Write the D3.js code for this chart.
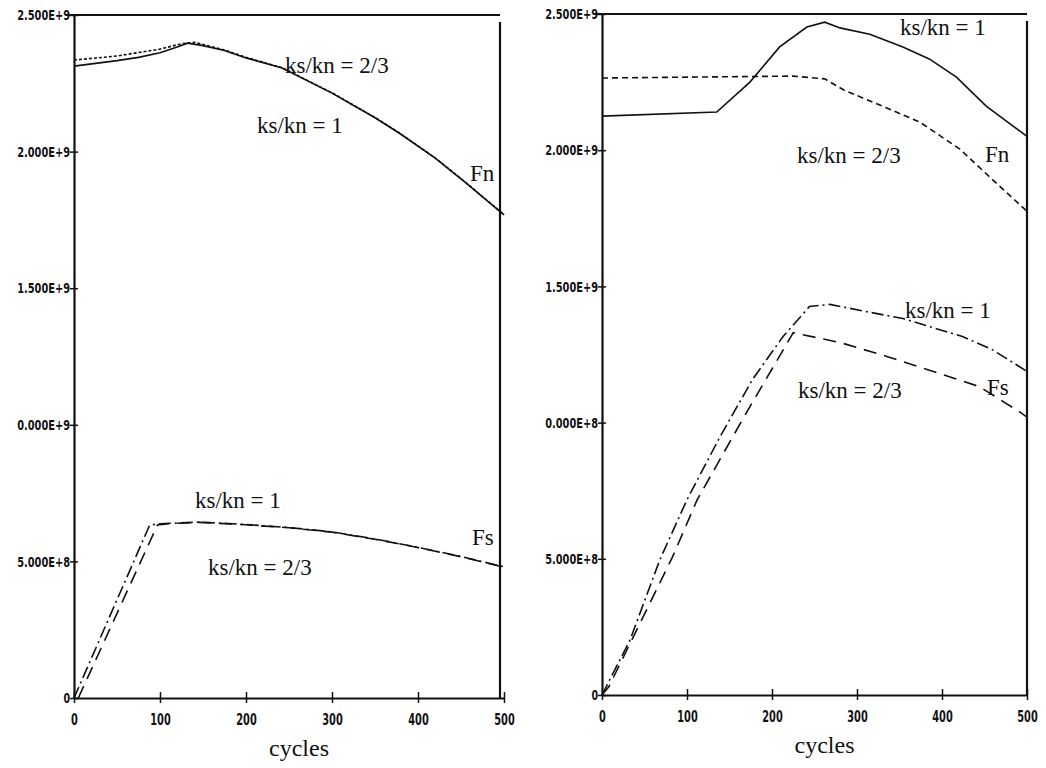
<!DOCTYPE html>
<html>
<head>
<meta charset="utf-8">
<script src="https://cdn.jsdelivr.net/npm/d3@7"></script>
<style>
  body { margin: 0; background: #fff; }
  .tick-label { font-family: "Liberation Sans Narrow", "DejaVu Sans Condensed", sans-serif; font-weight: bold; fill: #111; }
  .note { font-family: "Liberation Serif", "DejaVu Serif", serif; fill: #111; }
  .curve { fill: none; stroke: #111; stroke-width: 1.6; }
</style>
</head>
<body>
<script>
// Shared Axis Data (Values In Units Of 1E+9)
const yTicks = [0, 0.5, 1.0, 1.5, 2.0, 2.5];
const leftYLabels = ["0", "5.000E+8", "0.000E+9", "1.500E+9", "2.000E+9", "2.500E+9"];
const rightYLabels = ["0", "5.000E+8", "0.000E+8", "1.500E+9", "2.000E+9", "2.500E+9"];
const xTicks = [0, 100, 200, 300, 400, 500];
const xLabels = ["0", "100", "200", "300", "400", "500"];

// Left Panel - Fn
const leftFn1Cycles = [0, 25, 50, 75, 100, 120, 132, 150, 175, 200, 242, 300, 350, 378, 420, 456, 500];
const leftFn1Values = [2.313, 2.323, 2.333, 2.345, 2.362, 2.383, 2.397, 2.388, 2.37, 2.343, 2.306, 2.214, 2.124, 2.068, 1.976, 1.885, 1.768];
const leftFn23Cycles = [0, 50, 100, 125, 140, 175, 200, 242, 300, 350, 378, 420, 456, 500];
const leftFn23Values = [2.335, 2.35, 2.375, 2.395, 2.40, 2.372, 2.345, 2.307, 2.215, 2.125, 2.069, 1.977, 1.886, 1.769];

// Left Panel - Fs
const leftFs1Cycles = [0, 88, 100, 146, 200, 250, 300, 350, 398, 450, 500];
const leftFs1Values = [0, 0.633, 0.638, 0.644, 0.635, 0.624, 0.608, 0.582, 0.553, 0.518, 0.48];
const leftFs23Cycles = [5, 97, 110, 146, 200, 250, 300, 350, 398, 450, 500];
const leftFs23Values = [0, 0.633, 0.638, 0.643, 0.634, 0.623, 0.607, 0.581, 0.552, 0.517, 0.479];

// Right Panel - Fn
const rightFn1Cycles = [0, 135, 174, 209, 241, 262, 280, 315, 354, 385, 417, 452, 500];
const rightFn1Values = [2.125, 2.14, 2.25, 2.379, 2.452, 2.47, 2.449, 2.426, 2.379, 2.335, 2.268, 2.162, 2.051];
const rightFn23Cycles = [0, 224, 262, 285, 335, 374, 421, 459, 500];
const rightFn23Values = [2.265, 2.272, 2.262, 2.22, 2.155, 2.103, 2.004, 1.893, 1.776];

// Right Panel - Fs
const rightFs1Cycles = [0, 33, 68, 100, 139, 177, 213, 244, 268, 315, 354, 424, 459, 500];
const rightFs1Values = [0, 0.202, 0.496, 0.717, 0.949, 1.158, 1.316, 1.426, 1.434, 1.405, 1.382, 1.316, 1.268, 1.188];
const rightFs23Cycles = [0, 8, 83, 112, 170, 225, 280, 335, 401, 444, 491, 500];
const rightFs23Values = [0, 0.03, 0.507, 0.717, 1.037, 1.33, 1.294, 1.243, 1.176, 1.132, 1.04, 1.02];

// Dash Styles
const dashFn23Left = "3,2", dashFn23Right = "6,4", dashFs1 = "12,4,2,4", dashFs23 = "13,8";

let w = 1046, h = 768;
let svg = d3.select("body").append("svg").attr("width", w).attr("height", h);

function panel(p) {
  let x = d3.scaleLinear().domain([0, 500]).range([p.x0, p.x1]);
  let y = d3.scaleLinear().domain([0, 2.5]).range([p.y0, p.y1]);
  let g = svg.append("g");

  // Frame: Top And Right Borders
  g.append("line").attr("x1", p.x0 - 8).attr("x2", p.x1 - p.inset).attr("y1", p.y1).attr("y2", p.y1).attr("stroke", "#111").attr("stroke-width", 2);
  g.append("line").attr("x1", p.x1 - p.inset).attr("x2", p.x1 - p.inset).attr("y1", p.y1 + 7).attr("y2", p.y0).attr("stroke", "#111").attr("stroke-width", 2.2);

  // Axes With Cross Ticks
  let yAxis = d3.axisLeft(y).tickValues(yTicks).tickSize(0).tickFormat((d, i) => p.yLabels[i]);
  let ya = g.append("g").attr("transform", "translate(" + p.x0 + ",0)").call(yAxis);
  ya.select(".domain").attr("stroke", "#111").attr("stroke-width", 2.2);
  ya.selectAll("text").attr("class", "tick-label").attr("font-size", 14).attr("x", -4).attr("dy", "0.34em")
    .attr("textLength", (d, i) => p.yLabels[i].length * 6.6).attr("lengthAdjust", "spacingAndGlyphs");
  ya.selectAll(".tick").append("line").attr("x1", -4).attr("x2", 4).attr("stroke", "#111").attr("stroke-width", 1.5);

  let xAxis = d3.axisBottom(x).tickValues(xTicks).tickSize(0).tickFormat((d, i) => xLabels[i]);
  let xa = g.append("g").attr("transform", "translate(0," + p.y0 + ")").call(xAxis);
  xa.select(".domain").attr("stroke", "#111").attr("stroke-width", 2.2);
  xa.selectAll("text").attr("class", "tick-label").attr("font-size", 15).attr("y", 16).attr("dy", "0.71em")
    .attr("textLength", (d, i) => xLabels[i].length * 6.8).attr("lengthAdjust", "spacingAndGlyphs");
  xa.selectAll(".tick").append("line").attr("y1", -6).attr("y2", 5).attr("stroke", "#111").attr("stroke-width", 1.5);

  // Curves
  let line = d3.line().x((d) => x(d[0])).y((d) => y(d[1]));
  p.series.forEach((s) => {
    let pts = s.cycles.map((c, i) => [c, s.values[i]]);
    g.append("path").datum(pts).attr("d", line).attr("class", "curve").attr("stroke-dasharray", s.dash);
  });

  // Annotations
  p.notes.forEach((n) => {
    g.append("text").attr("class", "note").attr("x", n.x).attr("y", n.y).attr("font-size", n.size || 23).text(n.t);
  });
  g.append("text").attr("class", "note").attr("x", (p.x0 + p.x1) / 2 + 10).attr("y", p.y0 + 58).attr("text-anchor", "middle").attr("font-size", 24).text("cycles");
}

panel({
  x0: 74, x1: 504, y0: 698, y1: 15, inset: 4, yLabels: leftYLabels,
  series: [
    { cycles: leftFn23Cycles, values: leftFn23Values, dash: dashFn23Left },
    { cycles: leftFn1Cycles, values: leftFn1Values, dash: null },
    { cycles: leftFs23Cycles, values: leftFs23Values, dash: dashFs23 },
    { cycles: leftFs1Cycles, values: leftFs1Values, dash: dashFs1 }
  ],
  notes: [
    { t: "ks/kn = 2/3", x: 285, y: 73 },
    { t: "ks/kn = 1", x: 257, y: 133 },
    { t: "Fn", x: 470, y: 181 },
    { t: "ks/kn = 1", x: 195, y: 508 },
    { t: "ks/kn = 2/3", x: 208, y: 575 },
    { t: "Fs", x: 472, y: 545 }
  ]
});

panel({
  x0: 602, x1: 1027, y0: 695, y1: 14, inset: 0, yLabels: rightYLabels,
  series: [
    { cycles: rightFn23Cycles, values: rightFn23Values, dash: dashFn23Right },
    { cycles: rightFn1Cycles, values: rightFn1Values, dash: null },
    { cycles: rightFs23Cycles, values: rightFs23Values, dash: dashFs23 },
    { cycles: rightFs1Cycles, values: rightFs1Values, dash: dashFs1 }
  ],
  notes: [
    { t: "ks/kn = 1", x: 900, y: 35 },
    { t: "ks/kn = 2/3", x: 797, y: 163 },
    { t: "Fn", x: 985, y: 162 },
    { t: "ks/kn = 1", x: 905, y: 318 },
    { t: "ks/kn = 2/3", x: 798, y: 398 },
    { t: "Fs", x: 987, y: 395 }
  ]
});
</script>
</body>
</html>
